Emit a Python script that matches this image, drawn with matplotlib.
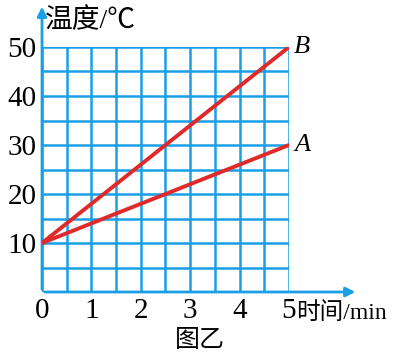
import matplotlib
matplotlib.use("Agg")
import matplotlib.pyplot as plt

# data
time_min = [0, 5]
temp_a = [10, 30]
temp_b = [10, 50]
x_ticks = [0, 1, 2, 3, 4, 5]
y_ticks = [10, 20, 30, 40, 50]

blue = "#1a9ee6"
red = "#e02a2a"
serif = ["Liberation Serif", "Noto Sans CJK SC", "DejaVu Serif"]
cjk = ["Noto Sans CJK SC", "DejaVu Sans"]

fig = plt.figure(figsize=(4.14, 3.59), dpi=100)
ax = fig.add_axes([42 / 414, 1 - 292 / 359, 247 / 414, 245 / 359])
ax.set_xlim(0, 5)
ax.set_ylim(0, 50)

# grid every half unit / every 5 degrees
for i in range(11):
    ax.axvline(i * 0.5, color=blue, lw=1.8, zorder=1)
    ax.axhline(i * 5, color=blue, lw=1.8, zorder=1)

for s in ax.spines.values():
    s.set_visible(False)

# axis arrows
ax.annotate("", xy=(6.4, 0), xytext=(0, 0), xycoords="data",
            arrowprops=dict(arrowstyle="-|>", color=blue, lw=2, mutation_scale=14),
            annotation_clip=False)
ax.annotate("", xy=(0, 58.8), xytext=(0, 0), xycoords="data",
            arrowprops=dict(arrowstyle="-|>", color=blue, lw=2, mutation_scale=14),
            annotation_clip=False)

ax.plot(time_min, temp_b, color=red, lw=2.8, solid_capstyle="round", zorder=3)
ax.plot(time_min, temp_a, color=red, lw=2.8, solid_capstyle="round", zorder=3)

ax.text(5.1, temp_b[-1], "B", fontsize=19, family=serif, style="italic",
        va="center", ha="left")
ax.text(5.1, temp_a[-1], "A", fontsize=19, family=serif, style="italic",
        va="center", ha="left")

ax.set_xticks(x_ticks)
ax.set_xticklabels([str(v) for v in x_ticks], family=serif, fontsize=21)
ax.set_yticks(y_ticks)
ax.set_yticklabels([str(v) for v in y_ticks], family=serif, fontsize=21)
ax.tick_params(length=0, pad=4)

fig.text(296 / 414, 1 - 313 / 359, "时间/min", family=serif, fontsize=17,
         va="center", ha="left")
fig.text(45 / 414, 1 - 21 / 359, "温度/℃", family=serif, fontsize=20,
         va="center", ha="left")
fig.text(200 / 414, 1 - 340 / 359, "图乙", family=cjk, fontsize=18,
         va="center", ha="center")

fig.savefig("out.png", dpi=100)
